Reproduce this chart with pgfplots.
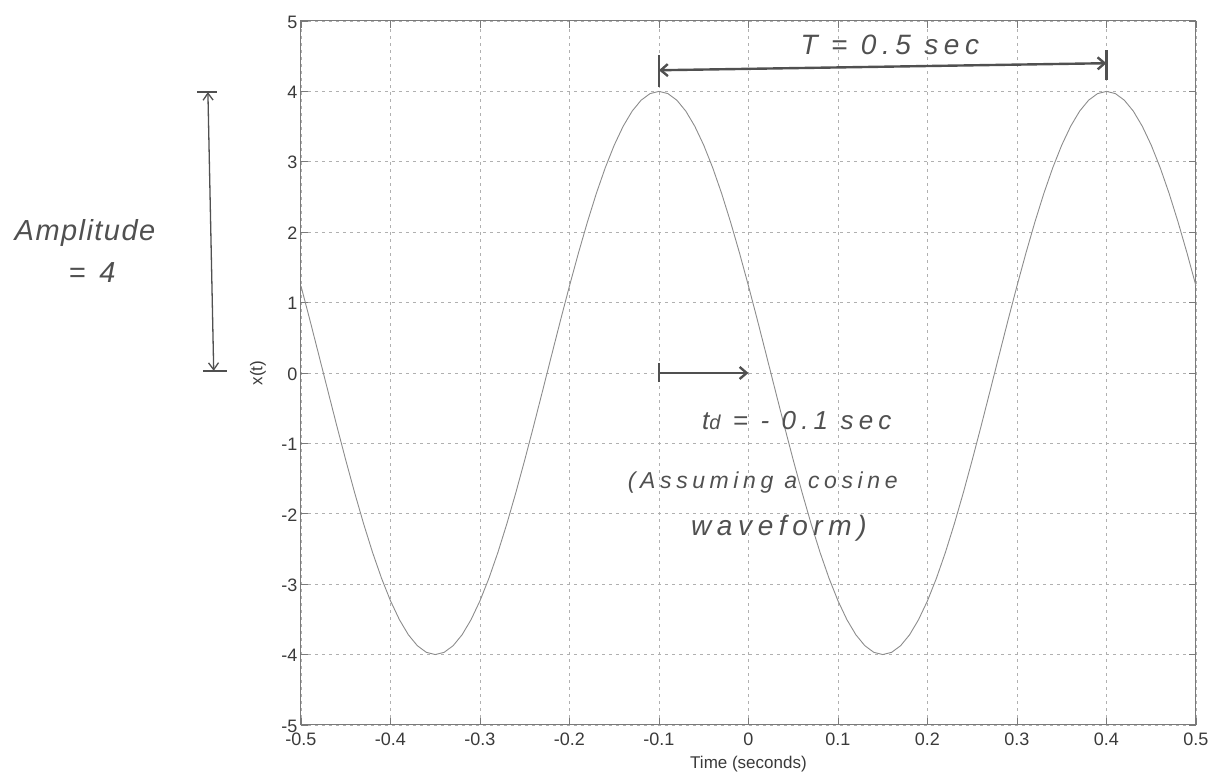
\documentclass[border=0pt]{standalone}
\usepackage{fontspec}
\setmainfont{Liberation Sans}
\newfontfamily\hand{Liberation Sans}[LetterSpace=20]
\newfontfamily\handA{Liberation Sans}[LetterSpace=5]
\usepackage{pgfplots}
\usepackage{pgfplotstable}
\pgfplotsset{compat=1.18}
\usetikzlibrary{arrows.meta}

\definecolor{curve}{HTML}{8C8C8C}
\definecolor{gridc}{HTML}{B0B0B0}
\definecolor{axc}{HTML}{7A7A7A}
\definecolor{ink}{HTML}{505050}
\definecolor{lbl}{HTML}{3A3A3A}

% x(t) sampled every 0.01 s
\pgfplotstableread{
t x
-0.50 1.236
-0.49 0.750
-0.48 0.251
-0.47 -0.251
-0.46 -0.750
-0.45 -1.236
-0.44 -1.703
-0.43 -2.143
-0.42 -2.550
-0.41 -2.916
-0.40 -3.236
-0.39 -3.505
-0.38 -3.719
-0.37 -3.874
-0.36 -3.968
-0.35 -4.000
-0.34 -3.968
-0.33 -3.874
-0.32 -3.719
-0.31 -3.505
-0.30 -3.236
-0.29 -2.916
-0.28 -2.550
-0.27 -2.143
-0.26 -1.703
-0.25 -1.236
-0.24 -0.750
-0.23 -0.251
-0.22 0.251
-0.21 0.750
-0.20 1.236
-0.19 1.703
-0.18 2.143
-0.17 2.550
-0.16 2.916
-0.15 3.236
-0.14 3.505
-0.13 3.719
-0.12 3.874
-0.11 3.968
-0.10 4.000
-0.09 3.968
-0.08 3.874
-0.07 3.719
-0.06 3.505
-0.05 3.236
-0.04 2.916
-0.03 2.550
-0.02 2.143
-0.01 1.703
0.00 1.236
0.01 0.750
0.02 0.251
0.03 -0.251
0.04 -0.750
0.05 -1.236
0.06 -1.703
0.07 -2.143
0.08 -2.550
0.09 -2.916
0.10 -3.236
0.11 -3.505
0.12 -3.719
0.13 -3.874
0.14 -3.968
0.15 -4.000
0.16 -3.968
0.17 -3.874
0.18 -3.719
0.19 -3.505
0.20 -3.236
0.21 -2.916
0.22 -2.550
0.23 -2.143
0.24 -1.703
0.25 -1.236
0.26 -0.750
0.27 -0.251
0.28 0.251
0.29 0.750
0.30 1.236
0.31 1.703
0.32 2.143
0.33 2.550
0.34 2.916
0.35 3.236
0.36 3.505
0.37 3.719
0.38 3.874
0.39 3.968
0.40 4.000
0.41 3.968
0.42 3.874
0.43 3.719
0.44 3.505
0.45 3.236
0.46 2.916
0.47 2.550
0.48 2.143
0.49 1.703
0.50 1.236
}\wavetable

\begin{document}
\begin{tikzpicture}
\begin{axis}[
  scale only axis,
  width=895pt, height=704pt,
  xmin=-0.5, xmax=0.5, ymin=-5, ymax=5,
  xtick={-0.5,-0.4,-0.3,-0.2,-0.1,0,0.1,0.2,0.3,0.4,0.5},
  ytick={-5,-4,-3,-2,-1,0,1,2,3,4,5},
  grid=major,
  major grid style={gridc, line width=0.8pt, dash pattern=on 3pt off 4pt},
  axis line style={axc, line width=1pt},
  tick style={axc, line width=0.8pt},
  tick align=inside, major tick length=7pt,
  /pgf/number format/assume math mode=true,
  ticklabel style={font=\fontsize{18}{20}\selectfont, text=lbl},
  xticklabel style={yshift=-4pt},
  yticklabel style={yshift=-1pt},
  xlabel={Time (seconds)}, ylabel={x(t)},
  label style={font=\fontsize{17}{20}\selectfont, text=lbl},
  xlabel style={at={(axis description cs:0.5,-0.0554)}, anchor=center},
  ylabel style={at={(axis description cs:-0.048,0.5)}, anchor=center},
  clip=false,
]
\addplot[curve, line width=0.9pt] table[x=t, y=x] {\wavetable};

% handwritten notes
\begin{scope}[ink]
  % period
  \draw[line width=2.4pt, {Straight Barb[length=7pt,width=12pt]}-{Straight Barb[length=7pt,width=12pt]}]
    (axis cs:-0.1,4.30) -- (axis cs:0.4,4.40);
  \draw[line width=2.4pt] (axis cs:-0.1,4.06) -- (axis cs:-0.1,4.52);
  \draw[line width=2.4pt] (axis cs:0.4,4.16) -- (axis cs:0.4,4.59);
  \node[font=\hand\itshape\fontsize{28}{32}\selectfont] at (axis cs:0.158,4.66) {T = 0.5 sec};
  % delay
  \draw[line width=2.4pt, -{Straight Barb[length=7pt,width=12pt]}]
    (axis cs:-0.1,0) -- (axis cs:0,0);
  \draw[line width=2.4pt] (axis cs:-0.1,-0.13) -- (axis cs:-0.1,0.14);
  \node[font=\hand\itshape\fontsize{26}{30}\selectfont] at (axis cs:0.054,-0.67) {t{\fontsize{20}{22}\selectfont d} = - 0.1 sec};
  \node[font=\hand\itshape\fontsize{23}{28}\selectfont] at (axis cs:0.016,-1.56) {(Assuming a cosine};
  \node[font=\hand\itshape\fontsize{28}{32}\selectfont] at (axis cs:0.034,-2.20) {waveform)};
  % amplitude
  \draw[line width=1.3pt, {Straight Barb[length=7pt,width=10pt]}-{Straight Barb[length=7pt,width=10pt]}]
    (axis cs:-0.6040,3.99) -- (axis cs:-0.5975,0.03);
  \draw[line width=1.3pt] (axis cs:-0.616,3.99) -- (axis cs:-0.594,3.99);
  \draw[line width=1.3pt] (axis cs:-0.609,0.03) -- (axis cs:-0.583,0.03);
  \node[font=\handA\itshape\fontsize{29}{32}\selectfont] at (axis cs:-0.7413,1.99) {Amplitude};
  \node[font=\hand\itshape\fontsize{29}{32}\selectfont] at (axis cs:-0.7335,1.43) {= 4};
\end{scope}

\coordinate (bbtl) at (axis cs:-0.8363,5.298);
\coordinate (bbbr) at (axis cs:0.5179,-5.724);
\end{axis}
\pgfresetboundingbox
\path (bbtl) rectangle (bbbr);
\end{tikzpicture}
\end{document}
